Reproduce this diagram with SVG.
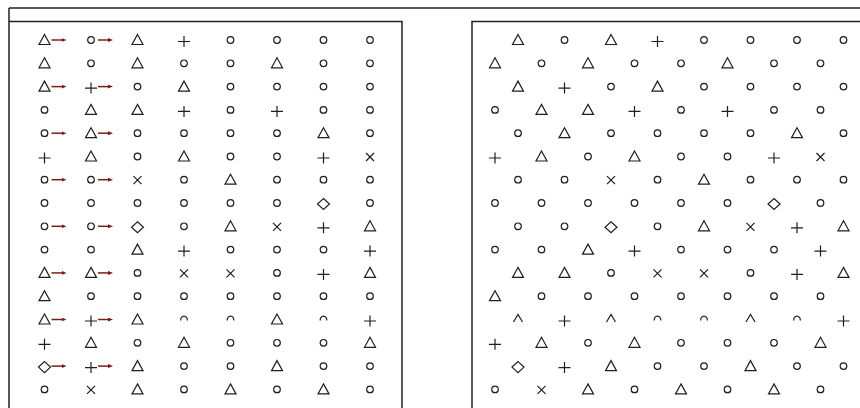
<svg xmlns="http://www.w3.org/2000/svg" xmlns:xlink="http://www.w3.org/1999/xlink" width="860" height="408" viewBox="0 0 860 408">
<style>
.s{fill:none;stroke:#1e1e1e;stroke-width:1.2}
.f{fill:none;stroke:#222;stroke-width:1.5}
.ar{stroke:#7a1c1c;stroke-width:1.5;fill:none}
</style>
<defs>
<circle id="sym-o" class="s" cx="0" cy="0" r="3.3"/>
<path id="sym-t" class="s" d="M0,-5.5 L5.5,4.5 L-5.5,4.5 Z"/>
<path id="sym-p" class="s" d="M-6,1.5 H6 M0,-4 V7"/>
<path id="sym-x" class="s" d="M-4,-3.5 L4,4.5 M4,-3.5 L-4,4.5"/>
<path id="sym-d" class="s" d="M0,-4.5 L6,1 L0,6.5 L-6,1 Z"/>
<path id="sym-n" class="s" d="M-3.15,1 A3.3,3.3 0 1 1 3.15,1"/>
<path id="sym-v" class="s" d="M-4.5,2.5 L0,-5 L4.5,2.5"/>
<marker id="ah" viewBox="0 0 5 4" refX="1" refY="2" markerWidth="5" markerHeight="4" markerUnits="userSpaceOnUse" orient="auto">
<path d="M0,0 L5,2 L0,4 Z" fill="#7a1c1c"/>
</marker>
</defs>
<rect width="860" height="408" fill="#fff"/>
<g id="frame">
<path class="f" d="M9,8 H860 M9,8 V408"/>
<path class="f" d="M9,21.5 H402 V408"/>
<path class="f" d="M472,408 V21.5 H860"/>
</g>
<g id="left-panel">
<g id="L0-0"><use href="#sym-t" x="44.5" y="40"/></g><g id="L0-1"><use href="#sym-o" x="91" y="40"/></g><g id="L0-2"><use href="#sym-t" x="137.5" y="40"/></g><g id="L0-3"><use href="#sym-p" x="184" y="40"/></g><g id="L0-4"><use href="#sym-o" x="230.5" y="40"/></g><g id="L0-5"><use href="#sym-o" x="277" y="40"/></g><g id="L0-6"><use href="#sym-o" x="323.5" y="40"/></g><g id="L0-7"><use href="#sym-o" x="370" y="40"/></g>
<g id="L1-0"><use href="#sym-t" x="44.5" y="63.3"/></g><g id="L1-1"><use href="#sym-o" x="91" y="63.3"/></g><g id="L1-2"><use href="#sym-t" x="137.5" y="63.3"/></g><g id="L1-3"><use href="#sym-o" x="184" y="63.3"/></g><g id="L1-4"><use href="#sym-o" x="230.5" y="63.3"/></g><g id="L1-5"><use href="#sym-t" x="277" y="63.3"/></g><g id="L1-6"><use href="#sym-o" x="323.5" y="63.3"/></g><g id="L1-7"><use href="#sym-o" x="370" y="63.3"/></g>
<g id="L2-0"><use href="#sym-t" x="44.5" y="86.6"/></g><g id="L2-1"><use href="#sym-p" x="91" y="86.6"/></g><g id="L2-2"><use href="#sym-o" x="137.5" y="86.6"/></g><g id="L2-3"><use href="#sym-t" x="184" y="86.6"/></g><g id="L2-4"><use href="#sym-o" x="230.5" y="86.6"/></g><g id="L2-5"><use href="#sym-o" x="277" y="86.6"/></g><g id="L2-6"><use href="#sym-o" x="323.5" y="86.6"/></g><g id="L2-7"><use href="#sym-o" x="370" y="86.6"/></g>
<g id="L3-0"><use href="#sym-o" x="44.5" y="109.9"/></g><g id="L3-1"><use href="#sym-t" x="91" y="109.9"/></g><g id="L3-2"><use href="#sym-t" x="137.5" y="109.9"/></g><g id="L3-3"><use href="#sym-p" x="184" y="109.9"/></g><g id="L3-4"><use href="#sym-o" x="230.5" y="109.9"/></g><g id="L3-5"><use href="#sym-p" x="277" y="109.9"/></g><g id="L3-6"><use href="#sym-o" x="323.5" y="109.9"/></g><g id="L3-7"><use href="#sym-o" x="370" y="109.9"/></g>
<g id="L4-0"><use href="#sym-o" x="44.5" y="133.2"/></g><g id="L4-1"><use href="#sym-t" x="91" y="133.2"/></g><g id="L4-2"><use href="#sym-o" x="137.5" y="133.2"/></g><g id="L4-3"><use href="#sym-o" x="184" y="133.2"/></g><g id="L4-4"><use href="#sym-o" x="230.5" y="133.2"/></g><g id="L4-5"><use href="#sym-o" x="277" y="133.2"/></g><g id="L4-6"><use href="#sym-t" x="323.5" y="133.2"/></g><g id="L4-7"><use href="#sym-o" x="370" y="133.2"/></g>
<g id="L5-0"><use href="#sym-p" x="44.5" y="156.5"/></g><g id="L5-1"><use href="#sym-t" x="91" y="156.5"/></g><g id="L5-2"><use href="#sym-o" x="137.5" y="156.5"/></g><g id="L5-3"><use href="#sym-t" x="184" y="156.5"/></g><g id="L5-4"><use href="#sym-o" x="230.5" y="156.5"/></g><g id="L5-5"><use href="#sym-o" x="277" y="156.5"/></g><g id="L5-6"><use href="#sym-p" x="323.5" y="156.5"/></g><g id="L5-7"><use href="#sym-x" x="370" y="156.5"/></g>
<g id="L6-0"><use href="#sym-o" x="44.5" y="179.7"/></g><g id="L6-1"><use href="#sym-o" x="91" y="179.7"/></g><g id="L6-2"><use href="#sym-x" x="137.5" y="179.7"/></g><g id="L6-3"><use href="#sym-o" x="184" y="179.7"/></g><g id="L6-4"><use href="#sym-t" x="230.5" y="179.7"/></g><g id="L6-5"><use href="#sym-o" x="277" y="179.7"/></g><g id="L6-6"><use href="#sym-o" x="323.5" y="179.7"/></g><g id="L6-7"><use href="#sym-o" x="370" y="179.7"/></g>
<g id="L7-0"><use href="#sym-o" x="44.5" y="203"/></g><g id="L7-1"><use href="#sym-o" x="91" y="203"/></g><g id="L7-2"><use href="#sym-o" x="137.5" y="203"/></g><g id="L7-3"><use href="#sym-o" x="184" y="203"/></g><g id="L7-4"><use href="#sym-o" x="230.5" y="203"/></g><g id="L7-5"><use href="#sym-o" x="277" y="203"/></g><g id="L7-6"><use href="#sym-d" x="323.5" y="203"/></g><g id="L7-7"><use href="#sym-o" x="370" y="203"/></g>
<g id="L8-0"><use href="#sym-o" x="44.5" y="226.3"/></g><g id="L8-1"><use href="#sym-o" x="91" y="226.3"/></g><g id="L8-2"><use href="#sym-d" x="137.5" y="226.3"/></g><g id="L8-3"><use href="#sym-o" x="184" y="226.3"/></g><g id="L8-4"><use href="#sym-t" x="230.5" y="226.3"/></g><g id="L8-5"><use href="#sym-x" x="277" y="226.3"/></g><g id="L8-6"><use href="#sym-p" x="323.5" y="226.3"/></g><g id="L8-7"><use href="#sym-t" x="370" y="226.3"/></g>
<g id="L9-0"><use href="#sym-o" x="44.5" y="249.6"/></g><g id="L9-1"><use href="#sym-o" x="91" y="249.6"/></g><g id="L9-2"><use href="#sym-t" x="137.5" y="249.6"/></g><g id="L9-3"><use href="#sym-p" x="184" y="249.6"/></g><g id="L9-4"><use href="#sym-o" x="230.5" y="249.6"/></g><g id="L9-5"><use href="#sym-o" x="277" y="249.6"/></g><g id="L9-6"><use href="#sym-o" x="323.5" y="249.6"/></g><g id="L9-7"><use href="#sym-p" x="370" y="249.6"/></g>
<g id="L10-0"><use href="#sym-t" x="44.5" y="272.9"/></g><g id="L10-1"><use href="#sym-t" x="91" y="272.9"/></g><g id="L10-2"><use href="#sym-o" x="137.5" y="272.9"/></g><g id="L10-3"><use href="#sym-x" x="184" y="272.9"/></g><g id="L10-4"><use href="#sym-x" x="230.5" y="272.9"/></g><g id="L10-5"><use href="#sym-o" x="277" y="272.9"/></g><g id="L10-6"><use href="#sym-p" x="323.5" y="272.9"/></g><g id="L10-7"><use href="#sym-t" x="370" y="272.9"/></g>
<g id="L11-0"><use href="#sym-t" x="44.5" y="296.2"/></g><g id="L11-1"><use href="#sym-o" x="91" y="296.2"/></g><g id="L11-2"><use href="#sym-o" x="137.5" y="296.2"/></g><g id="L11-3"><use href="#sym-o" x="184" y="296.2"/></g><g id="L11-4"><use href="#sym-o" x="230.5" y="296.2"/></g><g id="L11-5"><use href="#sym-o" x="277" y="296.2"/></g><g id="L11-6"><use href="#sym-o" x="323.5" y="296.2"/></g><g id="L11-7"><use href="#sym-o" x="370" y="296.2"/></g>
<g id="L12-0"><use href="#sym-t" x="44.5" y="319.5"/></g><g id="L12-1"><use href="#sym-p" x="91" y="319.5"/></g><g id="L12-2"><use href="#sym-t" x="137.5" y="319.5"/></g><g id="L12-3"><use href="#sym-n" x="184" y="319.5"/></g><g id="L12-4"><use href="#sym-n" x="230.5" y="319.5"/></g><g id="L12-5"><use href="#sym-t" x="277" y="319.5"/></g><g id="L12-6"><use href="#sym-n" x="323.5" y="319.5"/></g><g id="L12-7"><use href="#sym-p" x="370" y="319.5"/></g>
<g id="L13-0"><use href="#sym-p" x="44.5" y="342.8"/></g><g id="L13-1"><use href="#sym-t" x="91" y="342.8"/></g><g id="L13-2"><use href="#sym-o" x="137.5" y="342.8"/></g><g id="L13-3"><use href="#sym-t" x="184" y="342.8"/></g><g id="L13-4"><use href="#sym-o" x="230.5" y="342.8"/></g><g id="L13-5"><use href="#sym-o" x="277" y="342.8"/></g><g id="L13-6"><use href="#sym-o" x="323.5" y="342.8"/></g><g id="L13-7"><use href="#sym-t" x="370" y="342.8"/></g>
<g id="L14-0"><use href="#sym-d" x="44.5" y="366.1"/></g><g id="L14-1"><use href="#sym-p" x="91" y="366.1"/></g><g id="L14-2"><use href="#sym-t" x="137.5" y="366.1"/></g><g id="L14-3"><use href="#sym-o" x="184" y="366.1"/></g><g id="L14-4"><use href="#sym-o" x="230.5" y="366.1"/></g><g id="L14-5"><use href="#sym-t" x="277" y="366.1"/></g><g id="L14-6"><use href="#sym-o" x="323.5" y="366.1"/></g><g id="L14-7"><use href="#sym-o" x="370" y="366.1"/></g>
<g id="L15-0"><use href="#sym-o" x="44.5" y="389.4"/></g><g id="L15-1"><use href="#sym-x" x="91" y="389.4"/></g><g id="L15-2"><use href="#sym-t" x="137.5" y="389.4"/></g><g id="L15-3"><use href="#sym-o" x="184" y="389.4"/></g><g id="L15-4"><use href="#sym-t" x="230.5" y="389.4"/></g><g id="L15-5"><use href="#sym-o" x="277" y="389.4"/></g><g id="L15-6"><use href="#sym-t" x="323.5" y="389.4"/></g><g id="L15-7"><use href="#sym-o" x="370" y="389.4"/></g>
</g>
<g id="right-panel">
<g id="R0-0"><use href="#sym-t" x="518" y="40"/></g><g id="R0-1"><use href="#sym-o" x="564.5" y="40"/></g><g id="R0-2"><use href="#sym-t" x="611" y="40"/></g><g id="R0-3"><use href="#sym-p" x="657.5" y="40"/></g><g id="R0-4"><use href="#sym-o" x="704" y="40"/></g><g id="R0-5"><use href="#sym-o" x="750.5" y="40"/></g><g id="R0-6"><use href="#sym-o" x="797" y="40"/></g><g id="R0-7"><use href="#sym-o" x="843.5" y="40"/></g>
<g id="R1-0"><use href="#sym-t" x="495" y="63.3"/></g><g id="R1-1"><use href="#sym-o" x="541.5" y="63.3"/></g><g id="R1-2"><use href="#sym-t" x="588" y="63.3"/></g><g id="R1-3"><use href="#sym-o" x="634.5" y="63.3"/></g><g id="R1-4"><use href="#sym-o" x="681" y="63.3"/></g><g id="R1-5"><use href="#sym-t" x="727.5" y="63.3"/></g><g id="R1-6"><use href="#sym-o" x="774" y="63.3"/></g><g id="R1-7"><use href="#sym-o" x="820.5" y="63.3"/></g>
<g id="R2-0"><use href="#sym-t" x="518" y="86.6"/></g><g id="R2-1"><use href="#sym-p" x="564.5" y="86.6"/></g><g id="R2-2"><use href="#sym-o" x="611" y="86.6"/></g><g id="R2-3"><use href="#sym-t" x="657.5" y="86.6"/></g><g id="R2-4"><use href="#sym-o" x="704" y="86.6"/></g><g id="R2-5"><use href="#sym-o" x="750.5" y="86.6"/></g><g id="R2-6"><use href="#sym-o" x="797" y="86.6"/></g><g id="R2-7"><use href="#sym-o" x="843.5" y="86.6"/></g>
<g id="R3-0"><use href="#sym-o" x="495" y="109.9"/></g><g id="R3-1"><use href="#sym-t" x="541.5" y="109.9"/></g><g id="R3-2"><use href="#sym-t" x="588" y="109.9"/></g><g id="R3-3"><use href="#sym-p" x="634.5" y="109.9"/></g><g id="R3-4"><use href="#sym-o" x="681" y="109.9"/></g><g id="R3-5"><use href="#sym-p" x="727.5" y="109.9"/></g><g id="R3-6"><use href="#sym-o" x="774" y="109.9"/></g><g id="R3-7"><use href="#sym-o" x="820.5" y="109.9"/></g>
<g id="R4-0"><use href="#sym-o" x="518" y="133.2"/></g><g id="R4-1"><use href="#sym-t" x="564.5" y="133.2"/></g><g id="R4-2"><use href="#sym-o" x="611" y="133.2"/></g><g id="R4-3"><use href="#sym-o" x="657.5" y="133.2"/></g><g id="R4-4"><use href="#sym-o" x="704" y="133.2"/></g><g id="R4-5"><use href="#sym-o" x="750.5" y="133.2"/></g><g id="R4-6"><use href="#sym-t" x="797" y="133.2"/></g><g id="R4-7"><use href="#sym-o" x="843.5" y="133.2"/></g>
<g id="R5-0"><use href="#sym-p" x="495" y="156.5"/></g><g id="R5-1"><use href="#sym-t" x="541.5" y="156.5"/></g><g id="R5-2"><use href="#sym-o" x="588" y="156.5"/></g><g id="R5-3"><use href="#sym-t" x="634.5" y="156.5"/></g><g id="R5-4"><use href="#sym-o" x="681" y="156.5"/></g><g id="R5-5"><use href="#sym-o" x="727.5" y="156.5"/></g><g id="R5-6"><use href="#sym-p" x="774" y="156.5"/></g><g id="R5-7"><use href="#sym-x" x="820.5" y="156.5"/></g>
<g id="R6-0"><use href="#sym-o" x="518" y="179.7"/></g><g id="R6-1"><use href="#sym-o" x="564.5" y="179.7"/></g><g id="R6-2"><use href="#sym-x" x="611" y="179.7"/></g><g id="R6-3"><use href="#sym-o" x="657.5" y="179.7"/></g><g id="R6-4"><use href="#sym-t" x="704" y="179.7"/></g><g id="R6-5"><use href="#sym-o" x="750.5" y="179.7"/></g><g id="R6-6"><use href="#sym-o" x="797" y="179.7"/></g><g id="R6-7"><use href="#sym-o" x="843.5" y="179.7"/></g>
<g id="R7-0"><use href="#sym-o" x="495" y="203"/></g><g id="R7-1"><use href="#sym-o" x="541.5" y="203"/></g><g id="R7-2"><use href="#sym-o" x="588" y="203"/></g><g id="R7-3"><use href="#sym-o" x="634.5" y="203"/></g><g id="R7-4"><use href="#sym-o" x="681" y="203"/></g><g id="R7-5"><use href="#sym-o" x="727.5" y="203"/></g><g id="R7-6"><use href="#sym-d" x="774" y="203"/></g><g id="R7-7"><use href="#sym-o" x="820.5" y="203"/></g>
<g id="R8-0"><use href="#sym-o" x="518" y="226.3"/></g><g id="R8-1"><use href="#sym-o" x="564.5" y="226.3"/></g><g id="R8-2"><use href="#sym-d" x="611" y="226.3"/></g><g id="R8-3"><use href="#sym-o" x="657.5" y="226.3"/></g><g id="R8-4"><use href="#sym-t" x="704" y="226.3"/></g><g id="R8-5"><use href="#sym-x" x="750.5" y="226.3"/></g><g id="R8-6"><use href="#sym-p" x="797" y="226.3"/></g><g id="R8-7"><use href="#sym-t" x="843.5" y="226.3"/></g>
<g id="R9-0"><use href="#sym-o" x="495" y="249.6"/></g><g id="R9-1"><use href="#sym-o" x="541.5" y="249.6"/></g><g id="R9-2"><use href="#sym-t" x="588" y="249.6"/></g><g id="R9-3"><use href="#sym-p" x="634.5" y="249.6"/></g><g id="R9-4"><use href="#sym-o" x="681" y="249.6"/></g><g id="R9-5"><use href="#sym-o" x="727.5" y="249.6"/></g><g id="R9-6"><use href="#sym-o" x="774" y="249.6"/></g><g id="R9-7"><use href="#sym-p" x="820.5" y="249.6"/></g>
<g id="R10-0"><use href="#sym-t" x="518" y="272.9"/></g><g id="R10-1"><use href="#sym-t" x="564.5" y="272.9"/></g><g id="R10-2"><use href="#sym-o" x="611" y="272.9"/></g><g id="R10-3"><use href="#sym-x" x="657.5" y="272.9"/></g><g id="R10-4"><use href="#sym-x" x="704" y="272.9"/></g><g id="R10-5"><use href="#sym-o" x="750.5" y="272.9"/></g><g id="R10-6"><use href="#sym-p" x="797" y="272.9"/></g><g id="R10-7"><use href="#sym-t" x="843.5" y="272.9"/></g>
<g id="R11-0"><use href="#sym-t" x="495" y="296.2"/></g><g id="R11-1"><use href="#sym-o" x="541.5" y="296.2"/></g><g id="R11-2"><use href="#sym-o" x="588" y="296.2"/></g><g id="R11-3"><use href="#sym-o" x="634.5" y="296.2"/></g><g id="R11-4"><use href="#sym-o" x="681" y="296.2"/></g><g id="R11-5"><use href="#sym-o" x="727.5" y="296.2"/></g><g id="R11-6"><use href="#sym-o" x="774" y="296.2"/></g><g id="R11-7"><use href="#sym-o" x="820.5" y="296.2"/></g>
<g id="R12-0"><use href="#sym-v" x="518" y="319.5"/></g><g id="R12-1"><use href="#sym-p" x="564.5" y="319.5"/></g><g id="R12-2"><use href="#sym-v" x="611" y="319.5"/></g><g id="R12-3"><use href="#sym-n" x="657.5" y="319.5"/></g><g id="R12-4"><use href="#sym-n" x="704" y="319.5"/></g><g id="R12-5"><use href="#sym-v" x="750.5" y="319.5"/></g><g id="R12-6"><use href="#sym-n" x="797" y="319.5"/></g><g id="R12-7"><use href="#sym-p" x="843.5" y="319.5"/></g>
<g id="R13-0"><use href="#sym-p" x="495" y="342.8"/></g><g id="R13-1"><use href="#sym-t" x="541.5" y="342.8"/></g><g id="R13-2"><use href="#sym-o" x="588" y="342.8"/></g><g id="R13-3"><use href="#sym-t" x="634.5" y="342.8"/></g><g id="R13-4"><use href="#sym-o" x="681" y="342.8"/></g><g id="R13-5"><use href="#sym-o" x="727.5" y="342.8"/></g><g id="R13-6"><use href="#sym-o" x="774" y="342.8"/></g><g id="R13-7"><use href="#sym-t" x="820.5" y="342.8"/></g>
<g id="R14-0"><use href="#sym-d" x="518" y="366.1"/></g><g id="R14-1"><use href="#sym-p" x="564.5" y="366.1"/></g><g id="R14-2"><use href="#sym-t" x="611" y="366.1"/></g><g id="R14-3"><use href="#sym-o" x="657.5" y="366.1"/></g><g id="R14-4"><use href="#sym-o" x="704" y="366.1"/></g><g id="R14-5"><use href="#sym-t" x="750.5" y="366.1"/></g><g id="R14-6"><use href="#sym-o" x="797" y="366.1"/></g><g id="R14-7"><use href="#sym-o" x="843.5" y="366.1"/></g>
<g id="R15-0"><use href="#sym-o" x="495" y="389.4"/></g><g id="R15-1"><use href="#sym-x" x="541.5" y="389.4"/></g><g id="R15-2"><use href="#sym-t" x="588" y="389.4"/></g><g id="R15-3"><use href="#sym-o" x="634.5" y="389.4"/></g><g id="R15-4"><use href="#sym-t" x="681" y="389.4"/></g><g id="R15-5"><use href="#sym-o" x="727.5" y="389.4"/></g><g id="R15-6"><use href="#sym-t" x="774" y="389.4"/></g><g id="R15-7"><use href="#sym-o" x="820.5" y="389.4"/></g>
</g>
<g id="connectors" class="ar" marker-end="url(#ah)">
<path d="M51.5,40 H62.5"/><path d="M98,40 H109"/>
<path d="M51.5,86.6 H62.5"/><path d="M98,86.6 H109"/>
<path d="M51.5,133.2 H62.5"/><path d="M98,133.2 H109"/>
<path d="M51.5,179.7 H62.5"/><path d="M98,179.7 H109"/>
<path d="M51.5,226.3 H62.5"/><path d="M98,226.3 H109"/>
<path d="M51.5,272.9 H62.5"/><path d="M98,272.9 H109"/>
<path d="M51.5,319.5 H62.5"/><path d="M98,319.5 H109"/>
<path d="M51.5,366.1 H62.5"/><path d="M98,366.1 H109"/>
</g>
</svg>
